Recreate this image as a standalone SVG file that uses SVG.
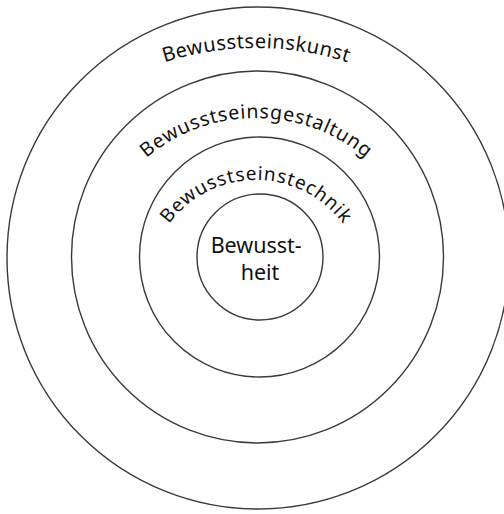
<svg xmlns="http://www.w3.org/2000/svg" width="504" height="514" viewBox="0 0 504 514">
  <style>
    .ring { fill: none; stroke: #3a3a3a; stroke-width: 1.4; }
    .lbl { font-family: "Noto Sans", Lato, sans-serif; fill: #111; }
  </style>
  <defs>
    <path id="arc1" d="M -3.8 198 A 300 300 0 0 1 515.8 198"/>
    <path id="arc2" d="M 86 288 A 170 170 0 0 1 426 288"/>
    <path id="arc3" d="M 148 288 A 108 108 0 0 1 364 288"/>
  </defs>
  <rect width="504" height="514" fill="#fff"/>
  <g id="kunst">
    <circle class="ring" cx="258" cy="258" r="251"/>
    <text class="lbl" font-size="20"><textPath href="#arc1" startOffset="50%" text-anchor="middle" textLength="186" lengthAdjust="spacing">Bewusstseinskunst</textPath></text>
  </g>
  <g id="gestaltung">
    <circle class="ring" cx="257.5" cy="257" r="186"/>
    <text class="lbl" font-size="19.5"><textPath href="#arc2" startOffset="50%" text-anchor="middle" textLength="238" lengthAdjust="spacing">Bewusstseinsgestaltung</textPath></text>
  </g>
  <g id="technik">
    <circle class="ring" cx="259.5" cy="257" r="120"/>
    <text class="lbl" font-size="19"><textPath href="#arc3" startOffset="50%" text-anchor="middle" textLength="202" lengthAdjust="spacing">Bewusstseinstechnik</textPath></text>
  </g>
  <g id="bewusstheit">
    <circle class="ring" cx="260" cy="257" r="63"/>
    <text class="lbl" font-size="21.5" text-anchor="middle">
      <tspan x="259" y="253">Bewusst-</tspan>
      <tspan x="260" y="280">heit</tspan>
    </text>
  </g>
</svg>
